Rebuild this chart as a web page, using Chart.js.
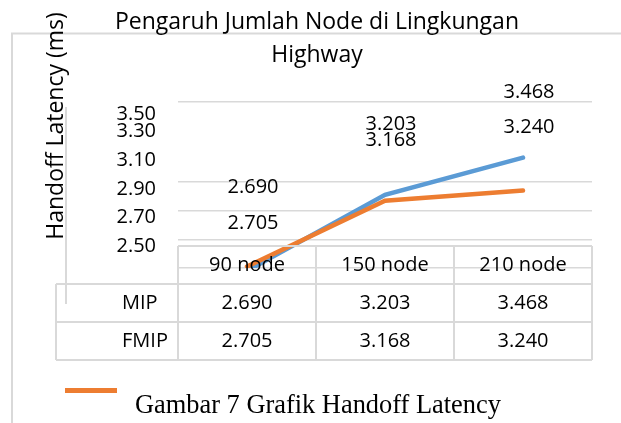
<!DOCTYPE html>
<html lang="id">
<head>
<meta charset="UTF-8">
<title>Handoff Latency</title>
<script src="https://cdn.jsdelivr.net/npm/chart.js"></script>
<style>
    body { margin: 0; padding: 0; background: #ffffff; }
    #chart { display: block; }
</style>
</head>
<body>
<canvas id="chart" width="621" height="423"></canvas>
<script>
    // data
    const categories = ['90 node', '150 node', '210 node'];
    const seriesNames = ['MIP', 'FMIP'];
    const mipValues = [2.690, 3.203, 3.468];   // data table / labels
    const fmipValues = [2.705, 3.168, 3.240];
    const mipLine = [2.28, 2.81, 3.07];        // where the lines are drawn on the axis
    const fmipLine = [2.31, 2.77, 2.84];
    const yTickValues = [2.30, 2.50, 2.70, 2.90, 3.10, 3.30, 3.42, 3.46];
    const yTickLabels = ['', '2.50', '2.70', '2.90', '3.10', '3.30', '3.50', ''];
    const yGridShown = [true, true, true, true, false, false, false, true];

    const colors = ['#5B9BD5', '#ED7D31'];
    const gridColor = '#d9d9d9';
    const sans = '"Open Sans", sans-serif';

    // frame, axis title, value labels, data table, legend key and caption
    const extras = {
        id: 'extras',
        beforeDraw(chart) {
            const c = chart.ctx;
            c.save();
            c.strokeStyle = gridColor;
            c.lineWidth = 2;
            c.beginPath();
            c.moveTo(12, 423); c.lineTo(12, 33.5); c.lineTo(621, 33.5);
            c.moveTo(66, 107); c.lineTo(66, 304);
            c.stroke();
            c.restore();
        },
        afterDatasetsDraw(chart) {
            const c = chart.ctx;
            const area = chart.chartArea;
            const x = chart.scales.x;
            c.save();

            // y axis title
            c.save();
            c.translate(56.5, 126);
            c.rotate(-Math.PI / 2);
            c.font = '23px ' + sans;
            c.fillStyle = '#000';
            c.textAlign = 'center';
            c.textBaseline = 'middle';
            c.fillText('Handoff Latency (ms)', 0, 0);
            c.restore();

            // value labels, each series on its own (hidden) label scale
            c.font = '20px ' + sans;
            c.fillStyle = '#000';
            c.textAlign = 'center';
            c.textBaseline = 'middle';
            const labelScales = [chart.scales.yLabelMip, chart.scales.yLabelFmip];
            [mipValues, fmipValues].forEach((vals, s) => {
                vals.forEach((v, i) => {
                    c.fillText(v.toFixed(3), x.getPixelForValue(i) + 6, labelScales[s].getPixelForValue(v));
                });
            });

            // data table
            const rowH = 38;
            const top = area.bottom - 22;
            const tableLeft = 56;
            const cols = [area.left];
            for (let i = 0; i < categories.length; i++) {
                cols.push(i < categories.length - 1 ? (x.getPixelForValue(i) + x.getPixelForValue(i + 1)) / 2 : area.right);
            }
            const bottom = top + rowH * 3;
            c.strokeStyle = gridColor;
            c.lineWidth = 2;
            c.beginPath();
            c.moveTo(area.left, top); c.lineTo(area.right, top);
            for (let r = 1; r <= 3; r++) {
                c.moveTo(tableLeft, top + rowH * r); c.lineTo(area.right, top + rowH * r);
            }
            cols.forEach(cx => { c.moveTo(cx, top); c.lineTo(cx, bottom); });
            c.moveTo(tableLeft, top + rowH); c.lineTo(tableLeft, bottom);
            c.stroke();

            c.fillStyle = '#000';
            categories.forEach((cat, i) => c.fillText(cat, x.getPixelForValue(i), top + rowH / 2));
            [mipValues, fmipValues].forEach((vals, s) => {
                const cy = top + rowH * (s + 1.5);
                c.textAlign = 'left';
                c.fillText(seriesNames[s], 122, cy);
                c.textAlign = 'center';
                vals.forEach((v, i) => c.fillText(v.toFixed(3), x.getPixelForValue(i), cy));
            });

            // legend key (only the orange one shows)
            c.fillStyle = colors[1];
            c.fillRect(65, 388, 52, 5);

            // caption
            c.font = '26.4px "Liberation Serif", "Times New Roman", serif';
            c.fillStyle = '#000';
            c.textAlign = 'left';
            c.textBaseline = 'alphabetic';
            c.fillText('Gambar 7 Grafik Handoff Latency', 135, 413);
            c.restore();
        }
    };

    const ctx = document.getElementById('chart').getContext('2d');
    const chart = new Chart(ctx, {
        type: 'line',
        data: {
            labels: categories,
            datasets: [{
                label: seriesNames[0],
                data: mipLine,
                borderColor: colors[0],
                backgroundColor: colors[0],
                borderWidth: 4.5,
                borderCapStyle: 'round',
                pointRadius: 0,
                tension: 0,
                order: 1
            }, {
                label: seriesNames[1],
                data: fmipLine,
                borderColor: colors[1],
                backgroundColor: colors[1],
                borderWidth: 4.5,
                borderCapStyle: 'round',
                pointRadius: 0,
                tension: 0,
                order: 0
            }]
        },
        options: {
            responsive: false,
            animation: false,
            layout: { padding: { left: 42, right: 29, top: 0, bottom: 155 } },
            plugins: {
                legend: { display: false },
                tooltip: { enabled: false },
                title: {
                    display: true,
                    text: ['Pengaruh Jumlah Node di Lingkungan', 'Highway'],
                    color: '#000',
                    font: { family: sans, size: 23, weight: 'normal', lineHeight: 1.44 },
                    padding: { top: 5.5, bottom: 30 }
                }
            },
            scales: {
                x: {
                    type: 'category',
                    offset: true,
                    display: false
                },
                y: {
                    min: 2.30,
                    max: 3.46,
                    afterBuildTicks: (scale) => {
                        scale.ticks = yTickValues.map(v => ({ value: v }));
                    },
                    afterFit: (scale) => {
                        scale.width = 136;
                    },
                    border: { display: false },
                    grid: {
                        drawTicks: false,
                        lineWidth: 1.5,
                        color: (c) => yGridShown[c.index] ? gridColor : 'rgba(0,0,0,0)'
                    },
                    ticks: {
                        autoSkip: false,
                        padding: 22,
                        labelOffset: 7,
                        color: '#000',
                        font: { family: sans, size: 20 },
                        callback: (v, i) => yTickLabels[i]
                    }
                },
                // hidden scales that place the value labels the way the picture does
                yLabelMip: { type: 'linear', display: false, min: 2.025, max: 3.392 },
                yLabelFmip: { type: 'linear', display: false, min: 2.453, max: 3.383 }
            }
        },
        plugins: [extras]
    });
</script>
</body>
</html>
